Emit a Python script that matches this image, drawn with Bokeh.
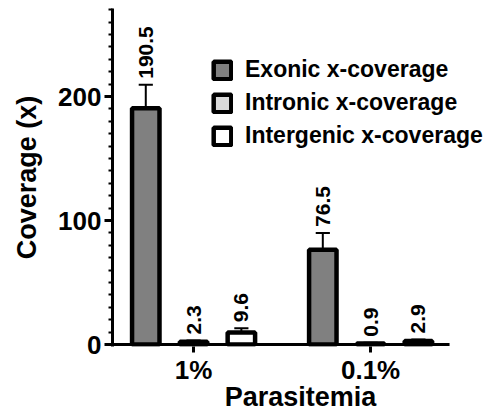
import numpy as np
from bokeh.plotting import figure
from bokeh.models import (ColumnDataSource, Range1d, SingleIntervalTicker,
                          FixedTicker, Legend, LegendItem)
from bokeh.core.properties import value
from bokeh.embed import file_html
from bokeh.resources import INLINE

groups = ["1%", "0.1%"]
series = ["Exonic x-coverage", "Intronic x-coverage", "Intergenic x-coverage"]
exonic = [190.5, 76.5]
intronic = [2.3, 0.9]
intergenic = [9.6, 2.9]
exonic_err = [19.0, 13.5]
intronic_err = [1.0, 0.5]
intergenic_err = [3.5, 1.2]
colors = ["#808080", "#d9d9d9", "#ffffff"]

FONT = "Liberation Sans"
offsets = [-0.27, 0.0, 0.27]
bar_w = 0.155
cap_half = 0.04

p = figure(frame_width=376, frame_height=338,
           x_range=Range1d(-0.458, 1.666), y_range=Range1d(-1.6, 271),
           output_backend="svg", toolbar_location=None,
           min_border_left=112, min_border_top=8, min_border_right=0,
           min_border_bottom=0)
p.outline_line_color = None
p.grid.visible = False
p.background_fill_color = "white"

# baseline (x axis line stops short of the legend area)
p.segment(x0=[p.x_range.start], y0=[0], x1=[len(groups) - 1 + 0.446], y1=[0],
          line_color="black", line_width=3)

vals = [exonic, intronic, intergenic]
errs = [exonic_err, intronic_err, intergenic_err]
items = []
for i, name in enumerate(series):
    xs = [g + offsets[i] for g in range(len(groups))]
    tops = [v + e for v, e in zip(vals[i], errs[i])]
    src = ColumnDataSource(data=dict(x=xs, top=vals[i], etop=tops,
                                     cl=[x - cap_half for x in xs],
                                     cr=[x + cap_half for x in xs],
                                     lab=[str(v) for v in vals[i]]))
    p.segment(x0="x", y0="top", x1="x", y1="etop", source=src,
              line_color="black", line_width=2)
    p.segment(x0="cl", y0="etop", x1="cr", y1="etop", source=src,
              line_color="black", line_width=2)
    r = p.vbar(x="x", top="top", bottom=0, width=bar_w, source=src,
               fill_color=colors[i], line_color="black", line_width=4.5)
    items.append(LegendItem(label=name, renderers=[r]))
    p.text(x="x", y="etop", text="lab", source=src, angle=np.pi / 2,
           text_align="left", text_baseline="middle", y_offset=-6,
           text_font=value(FONT), text_font_style="bold",
           text_font_size="21px", text_color="black")

legend = Legend(items=items, location=(99, 197))
legend.background_fill_alpha = 0
legend.border_line_color = None
legend.padding = 0
legend.margin = 0
legend.glyph_width = 22
legend.glyph_height = 22
legend.label_standoff = 12
legend.spacing = 6
legend.label_text_font = FONT
legend.label_text_font_style = "bold"
legend.label_text_font_size = "23px"
legend.label_text_color = "black"
p.add_layout(legend)

# y axis
ya = p.yaxis[0]
ya.ticker = SingleIntervalTicker(interval=100, num_minor_ticks=10)
ya.axis_label = "Coverage (x)"
ya.axis_line_width = 3
ya.major_tick_line_width = 3
ya.major_tick_out = 8
ya.major_tick_in = 0
ya.minor_tick_line_width = 2
ya.minor_tick_out = 4
ya.minor_tick_in = 0
ya.major_label_standoff = 3
ya.axis_label_standoff = 13

# x axis
xa = p.xaxis[0]
xa.ticker = FixedTicker(ticks=list(range(len(groups))))
xa.major_label_overrides = {i: g for i, g in enumerate(groups)}
xa.axis_label = "Parasitemia"
xa.axis_line_color = None
xa.major_tick_line_width = 3
xa.major_tick_out = 6
xa.major_tick_in = 0
xa.minor_tick_line_color = None
xa.major_label_standoff = 2
xa.axis_label_standoff = -6

for ax in (xa, ya):
    ax.major_label_text_font = FONT
    ax.major_label_text_font_style = "bold"
    ax.major_label_text_font_size = "26px"
    ax.major_label_text_color = "black"
    ax.axis_label_text_font = FONT
    ax.axis_label_text_font_style = "bold"
    ax.axis_label_text_font_size = "27px"
    ax.axis_label_text_color = "black"
    ax.major_tick_line_color = "black"
    ax.major_label_orientation = "horizontal"

open("out.html", "w").write(file_html(p, INLINE))
